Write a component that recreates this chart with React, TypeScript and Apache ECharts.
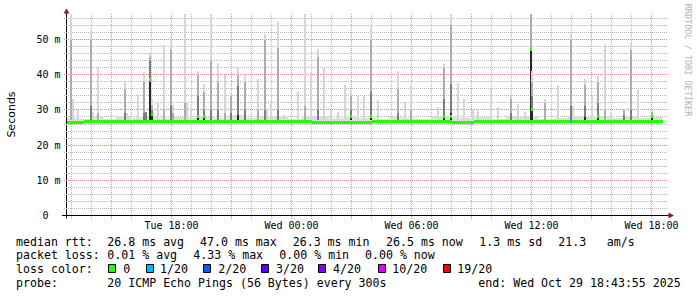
import React, { useEffect, useRef } from 'react';
import * as echarts from 'echarts';

// ---------- axes ----------
const X_MIN = 12.75; // hours since Tue 00:00
const X_MAX = 42.75;
const Y_MAX = 57.4; // ms
const STEP = 5 / 60; // 300 s
const SMOKE_BASE = 27.0;
const FUZZ_BASE = 26.0;

const xTickHours = [18, 24, 30, 36, 42];
const xTickLabels = ['Tue 18:00', 'Wed 00:00', 'Wed 06:00', 'Wed 12:00', 'Wed 18:00'];
const yTickValues = [0, 10, 20, 30, 40, 50];
const yTickLabels = ['0\u00a0\u00a0', '10 m', '20 m', '30 m', '40 m', '50 m'];
const gridMajorHours = [15, 18, 21, 24, 27, 30, 33, 36, 39, 42];
const gridMinorHours = [13, 14, 16, 17, 19, 20, 22, 23, 25, 26, 28, 29, 31, 32, 34, 35, 37, 38, 40, 41];
const gridMajorMs = [10, 20, 30, 40, 50];
const gridMinorMs = [2, 4, 6, 8, 12, 14, 16, 18, 22, 24, 26, 28, 32, 34, 36, 38, 42, 44, 46, 48, 52, 54, 56];

// ---------- smoke spikes: [hour, blackTop, darkTop, mediumTop, lightTop] (ms, 0 = none) ----------
const spikes: number[][] = [
  [12.965, 0, 0, 50, 57.2],
  [13.05, 0, 0, 0, 33],
  [13.295, 0, 0, 0, 30],
  [13.965, 0, 31, 50, 52.4],
  [14.045, 0, 0, 0, 29.5],
  [14.295, 0, 0, 29, 42],
  [15.665, 0, 29, 36, 38.2],
  [15.745, 0, 0, 0, 29],
  [16.295, 0, 0, 0, 34.6],
  [16.63, 0, 29, 38, 40.9],
  [16.715, 0, 29.5, 0, 0],
  [16.93, 38, 44, 45, 46.3],
  [17.015, 28.5, 30, 31, 33],
  [17.295, 0, 0, 0, 32],
  [17.63, 0, 0, 30, 48.4],
  [17.965, 0, 31, 47, 51],
  [18.045, 0, 0, 29, 31.5],
  [18.665, 0, 0, 32, 57.2],
  [18.745, 0, 0, 0, 32],
  [18.965, 0, 0, 0, 30.6],
  [19.295, 28, 34, 40, 41],
  [19.63, 28, 30, 35, 37.4],
  [19.965, 0, 30, 44, 57.2],
  [20.33, 0, 30, 38, 43.2],
  [20.665, 0, 0, 29, 40],
  [20.965, 0, 29, 34, 35],
  [21.33, 28.5, 36.8, 40, 42.2],
  [21.665, 0, 30, 38, 40.1],
  [21.965, 0, 0, 0, 28.5],
  [22.295, 0, 0, 30, 38.7],
  [22.665, 0, 30, 50, 51.5],
  [22.745, 0, 0, 0, 30.4],
  [22.965, 0, 0, 0, 32.5],
  [23.33, 0, 30, 47.7, 54.9],
  [23.63, 0, 0, 0, 28.5],
  [24.295, 0, 0, 0, 35.3],
  [24.665, 0, 0, 31, 57.2],
  [24.965, 0, 0, 0, 40.5],
  [25.33, 0, 30, 45, 47.2],
  [25.63, 0, 0, 0, 42],
  [25.965, 0, 0, 0, 30],
  [26.33, 0, 0, 0, 29.5],
  [26.665, 0, 0, 0, 37],
  [26.965, 28, 30, 34, 35.8],
  [27.33, 0, 0, 0, 34],
  [27.63, 0, 0, 0, 33.9],
  [27.965, 28, 35, 50, 53.7],
  [28.33, 0, 0, 0, 32.7],
  [29.295, 0, 29, 36, 41.2],
  [29.665, 0, 0, 0, 32.3],
  [29.98, 0, 0, 30, 36.7],
  [31.33, 0, 0, 0, 30.8],
  [31.63, 28, 33, 42, 43.1],
  [31.965, 29, 37.5, 54, 57.2],
  [32.295, 0, 0, 0, 37.7],
  [32.63, 0, 0, 0, 33],
  [33.08, 0, 0, 0, 30.3],
  [33.33, 0, 0, 0, 29.6],
  [33.965, 0, 0, 0, 36],
  [34.295, 0, 0, 0, 30.8],
  [34.965, 0, 29, 33, 34.4],
  [35.295, 0, 0, 0, 31.7],
  [35.665, 0, 0, 0, 29.5],
  [35.95, 47.2, 47.7, 57.2, 0],
  [36.035, 30.5, 34, 38, 41.2],
  [36.665, 0, 0, 32, 33],
  [37.33, 0, 0, 0, 37],
  [37.965, 0, 31, 50, 51.5],
  [38.045, 0, 0, 0, 31],
  [38.665, 28, 31, 37, 38.7],
  [38.995, 0, 0, 0, 34.2],
  [39.33, 28.5, 32, 38, 39.6],
  [39.665, 0, 0, 30, 48.7],
  [39.965, 0, 0, 0, 29],
  [40.63, 0, 28.5, 30, 30.4],
  [40.965, 0, 30, 47, 49.1],
  [41.33, 0, 0, 0, 35.8],
  [41.995, 28, 28.5, 29.5, 30.4],
];

// light smoke along the baseline: [startHour, endHour, topMs]
const fuzzRuns: number[][] = [
  [12.75, 13.3, 27.8], [13.3, 13.9, 27.4], [13.9, 14.6, 27.9], [14.6, 15.2, 27.5],
  [15.2, 15.9, 28.2], [15.9, 16.5, 27.6], [16.5, 17.3, 28.4], [17.3, 18.0, 27.7],
  [18.0, 18.6, 28.1], [18.6, 19.2, 27.6], [19.2, 20.1, 28.4], [20.1, 20.8, 27.7],
  [20.8, 21.7, 28.5], [21.7, 22.4, 27.6], [22.4, 23.1, 28.0], [23.1, 23.8, 28.3],
  [23.8, 24.5, 27.5], [24.5, 25.2, 27.9], [25.2, 25.9, 28.2], [25.9, 26.6, 27.6],
  [26.6, 27.3, 28.3], [27.3, 28.1, 27.8], [28.1, 28.8, 27.5], [28.8, 29.5, 28.0],
  [29.5, 30.3, 27.7], [30.3, 31.0, 27.4], [31.0, 31.6, 27.9], [31.6, 32.3, 28.4],
  [32.3, 33.2, 27.6], [33.2, 33.9, 27.9], [33.9, 34.7, 27.5], [34.7, 35.5, 28.0],
  [35.5, 36.3, 28.3], [36.3, 37.1, 27.5], [37.1, 37.8, 27.8], [37.8, 38.5, 28.2],
  [38.5, 39.2, 28.0], [39.2, 39.9, 28.4], [39.9, 40.6, 27.6], [40.6, 41.3, 28.0],
  [41.3, 41.9, 27.6], [41.9, 42.575, 28.1],
];

// median rtt: [startHour, endHour, ms, lossLevel]
const medianRuns: number[][] = [
  [12.75, 13.6, 26.35, 0],
  [13.6, 16.9, 26.6, 0],
  [16.9, 18.5, 26.7, 0],
  [18.5, 22.0, 26.6, 0],
  [22.0, 25.0, 26.7, 0],
  [25.0, 28.0, 26.55, 0],
  [28.0, 32.0, 26.6, 0],
  [32.0, 33.1, 26.35, 0],
  [33.1, 36.5, 26.6, 0],
  [36.5, 39.5, 26.7, 0],
  [39.5, 42.575, 26.6, 0],
];
// single-step median values: [hour, ms, lossLevel]
const medianSteps: number[][] = [
  [16.93, 38.7, 0], [17.015, 28.7, 0], [19.295, 28.0, 0], [19.63, 28.0, 0],
  [26.965, 28.0, 0], [27.965, 28.2, 0], [31.63, 28.0, 0], [31.965, 28.2, 0],
  [35.95, 47.2, 0], [36.035, 30.1, 0], [37.965, 26.6, 1], [39.33, 28.0, 0],
  [41.995, 28.0, 0],
];

const lossColors = ['#26ff00', '#00b8ff', '#0059ff', '#5e00ff', '#7e00ff', '#dd00ff', '#ff0000'];
const lossLabels = ['0', '1/20', '2/20', '3/20', '4/20', '10/20', '19/20'];

const medianLegend = [
  ['median rtt:', 16], ['26.8 ms avg', 107.3], ['47.0 ms max', 200], ['26.3 ms min', 292.7],
  ['26.5 ms now', 386], ['1.3 ms sd', 479.3], ['21.3', 558.3], ['am/s', 606.7],
];
const lossLegend = [
  ['packet loss:', 16], ['0.01 % avg', 107.3], ['4.33 % max', 193.3], ['0.00 % min', 279.3], ['0.00 % now', 365],
];
const probeLegend = [
  ['probe:', 16], ['20 ICMP Echo Pings (56 Bytes) every 300s', 107.3], ['end: Wed Oct 29 18:43:55 2025', 478.3],
];
const lossSwatchX = [108, 146, 203, 261, 318, 378, 443];
const lossLabelX = [123.3, 160, 218.3, 276, 333, 392.3, 457.3];

const MONO = '"DejaVu Sans Mono", "Liberation Mono", monospace';
const bandColors = ['#262626', '#7c7c7c', '#adadad', '#d6d6d6'];
const FUZZ_COLOR = '#dedede';
const MINOR_GRID = '#b8b8b8';
const MAJOR_GRID = '#d98a8a';
const ARROW = '#961d1d';

export default function App() {
  const ref = useRef<HTMLDivElement>(null);

  useEffect(() => {
    if (!ref.current) return;
    const chart = echarts.init(ref.current, undefined, { renderer: 'svg' });

    const smokeData: number[][] = [];
    spikes.forEach((row) => {
      const h = row[0];
      let prev = SMOKE_BASE;
      for (let band = 0; band < 4; band++) {
        const top = row[band + 1];
        if (top > prev) {
          smokeData.push([h, prev, top, band]);
          prev = top;
        }
      }
    });

    const gridData: number[][] = [
      ...gridMinorHours.map((h) => [0, h, 0]),
      ...gridMajorHours.map((h) => [0, h, 1]),
      ...gridMinorMs.map((v) => [1, v, 0]),
      ...gridMajorMs.map((v) => [1, v, 1]),
    ];

    const medianData: number[][] = [
      ...medianRuns.map((r) => [r[0], r[1], r[2], r[3]]),
      ...medianSteps.map((s) => [s[0] - STEP / 2, s[0] + STEP / 2, s[1], s[2]]),
    ];

    const text = (t: string, x: number, y: number, extra: any = {}) => ({
      type: 'text',
      x,
      y,
      silent: true,
      style: {
        text: t,
        fill: '#000',
        fontFamily: MONO,
        fontSize: 11.6,
        align: 'left',
        verticalAlign: 'middle',
        textAlign: 'left',
        textVerticalAlign: 'middle',
        ...extra,
      },
    });

    const graphics: any[] = [];
    graphics.push({ type: 'line', silent: true, shape: { x1: 62, y1: 215.5, x2: 669, y2: 215.5 }, style: { stroke: '#000', lineWidth: 1 } });
    graphics.push({ type: 'line', silent: true, shape: { x1: 66.5, y1: 218.5, x2: 66.5, y2: 11 }, style: { stroke: '#000', lineWidth: 1 } });
    graphics.push({ type: 'polygon', silent: true, shape: { points: [[66.5, 8.5], [63.5, 13.5], [69.5, 13.5]] }, style: { fill: ARROW } });
    graphics.push({ type: 'polygon', silent: true, shape: { points: [[674, 215.5], [668.5, 212.5], [668.5, 218.5]] }, style: { fill: ARROW } });
    graphics.push({
      type: 'text', x: 688, y: 60, rotation: -Math.PI / 2, silent: true,
      style: { text: 'RRDTOOL / TOBI OETIKER', fill: '#b4b4b4', fontFamily: MONO, fontSize: 8.5, align: 'center', verticalAlign: 'middle', textAlign: 'center', textVerticalAlign: 'middle' },
    });
    medianLegend.forEach(([t, x]) => graphics.push(text(t as string, x as number, 241.6)));
    lossLegend.forEach(([t, x]) => graphics.push(text(t as string, x as number, 255.2)));
    graphics.push(text('loss color:', 16, 268.6));
    lossColors.forEach((c, i) => {
      graphics.push({ type: 'rect', silent: true, shape: { x: lossSwatchX[i] + 0.5, y: 264.5, width: 7, height: 8 }, style: { fill: c, stroke: '#000', lineWidth: 1 } });
      graphics.push(text(lossLabels[i], lossLabelX[i], 268.6));
    });
    probeLegend.forEach(([t, x]) => graphics.push(text(t as string, x as number, 282.6)));

    const option: any = {
      animation: false,
      backgroundColor: '#ffffff',
      grid: { left: 66.5, right: 30.5, top: 13.5, bottom: 81.5, containLabel: false, outerBoundsMode: 'none' },
      xAxis: {
        type: 'value',
        min: X_MIN,
        max: X_MAX,
        axisLine: { show: false },
        axisTick: { show: false },
        splitLine: { show: false },
        axisLabel: {
          customValues: xTickHours,
          formatter: (v: number) => {
            const i = xTickHours.indexOf(Math.round(v * 1000) / 1000);
            return i >= 0 ? xTickLabels[i] : '';
          },
          fontFamily: MONO,
          fontSize: 10,
          color: '#000',
          margin: 5,
        },
      },
      yAxis: {
        type: 'value',
        min: 0,
        max: Y_MAX,
        interval: 10,
        name: 'Seconds',
        nameLocation: 'middle',
        nameRotate: 90,
        nameGap: 50,
        nameTextStyle: { fontFamily: '"DejaVu Sans", sans-serif', fontSize: 11, color: '#000' },
        axisLine: { show: false },
        axisTick: { show: false },
        splitLine: { show: false },
        axisLabel: {
          formatter: (v: number) => {
            const i = yTickValues.indexOf(v);
            return i >= 0 ? yTickLabels[i] : '';
          },
          fontFamily: MONO,
          fontSize: 10,
          color: '#000',
          margin: 6,
        },
      },
      series: [
        {
          type: 'custom',
          name: 'grid',
          silent: true,
          clip: false,
          z: 1,
          data: gridData,
          renderItem: (params: any, api: any) => {
            const kind = api.value(0);
            const v = api.value(1);
            const major = api.value(2);
            const cs = params.coordSys;
            const color = major ? MAJOR_GRID : MINOR_GRID;
            if (kind === 0) {
              const x = Math.round(api.coord([v, 0])[0] - 0.5) + 0.5;
              const y1 = Math.round(cs.y);
              const y2 = Math.round(cs.y + cs.height) + 3;
              return { type: 'line', shape: { x1: x, y1, x2: x, y2 }, style: { stroke: color, lineWidth: 1, lineDash: [1, 1] } };
            }
            const y = Math.round(api.coord([X_MIN, v])[1] - 0.5) + 0.5;
            const x1 = Math.round(cs.x) - 3;
            const x2 = Math.round(cs.x + cs.width);
            return { type: 'line', shape: { x1, y1: y, x2, y2: y }, style: { stroke: color, lineWidth: 1, lineDash: [1, 1] } };
          },
        },
        {
          type: 'custom',
          name: 'fuzz',
          silent: true,
          clip: true,
          z: 2,
          data: fuzzRuns,
          renderItem: (params: any, api: any) => {
            const a = api.coord([api.value(0), api.value(2)]);
            const b = api.coord([api.value(1), FUZZ_BASE]);
            const x0 = Math.round(a[0]);
            const x1 = Math.round(b[0]);
            const y0 = Math.round(a[1]);
            const y1 = Math.round(b[1]);
            return { type: 'rect', shape: { x: x0, y: y0, width: x1 - x0, height: y1 - y0 }, style: { fill: FUZZ_COLOR } };
          },
        },
        {
          type: 'custom',
          name: 'smoke',
          silent: true,
          clip: true,
          z: 3,
          data: smokeData,
          renderItem: (params: any, api: any) => {
            const h = api.value(0);
            const a = api.coord([h - STEP / 2, api.value(2)]);
            const b = api.coord([h + STEP / 2, api.value(1)]);
            const x0 = Math.round(a[0]);
            const x1 = Math.max(x0 + 2, Math.round(b[0]));
            const y0 = Math.round(a[1]);
            const y1 = Math.round(b[1]);
            return { type: 'rect', shape: { x: x0, y: y0, width: x1 - x0, height: Math.max(1, y1 - y0) }, style: { fill: bandColors[api.value(3)] } };
          },
        },
        {
          type: 'custom',
          name: 'median',
          silent: true,
          clip: true,
          z: 4,
          data: medianData,
          renderItem: (params: any, api: any) => {
            const a = api.coord([api.value(0), api.value(2)]);
            const b = api.coord([api.value(1), api.value(2)]);
            const x0 = Math.round(a[0]);
            const x1 = Math.max(x0 + 2, Math.round(b[0]));
            const y = Math.round(a[1] - 1.5);
            return { type: 'rect', shape: { x: x0, y, width: x1 - x0, height: 3 }, style: { fill: lossColors[api.value(3)] } };
          },
        },
      ],
      graphic: graphics,
    };

    chart.setOption(option);
    return () => chart.dispose();
  }, []);

  return <div ref={ref} style={{ position: 'absolute', left: 0, top: 0, width: 697, height: 297 }} />;
}
